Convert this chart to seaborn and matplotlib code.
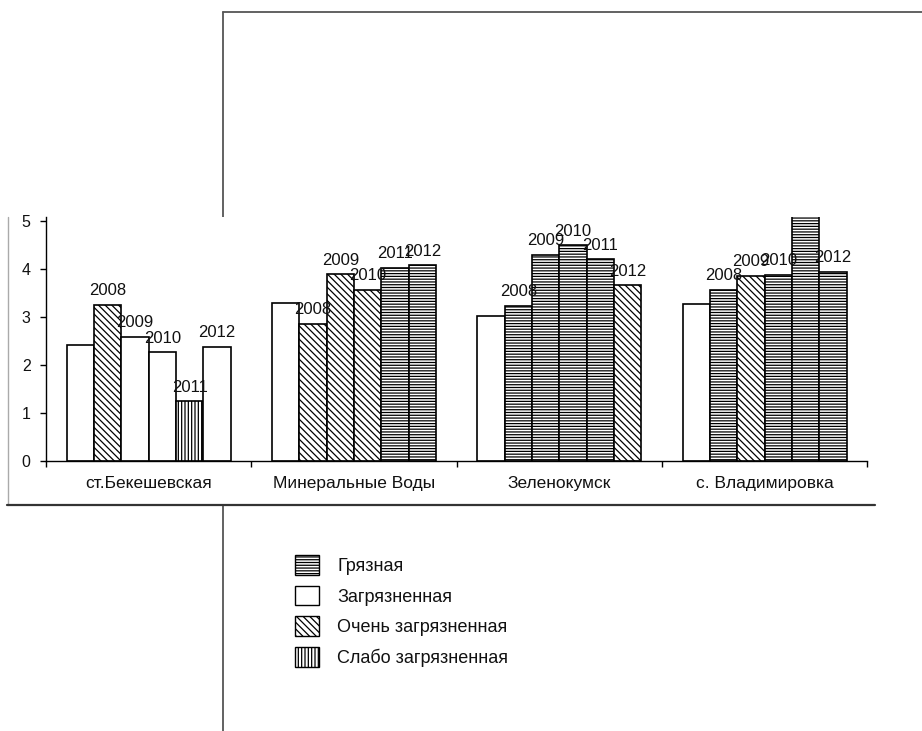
import matplotlib
matplotlib.use("Agg")
import matplotlib.pyplot as plt
from matplotlib.patches import Patch, Rectangle
from matplotlib.lines import Line2D
from matplotlib.ticker import FixedLocator, NullFormatter
import seaborn as sns
import pandas as pd

# ---- data -------------------------------------------------------------
stations = ["ст.Бекешевская", "Минеральные Воды", "Зеленокумск", "с. Владимировка"]
year_labels = ["", "2008", "2009", "2010", "2011", "2012"]

bekeshevskaya = [2.42, 3.25, 2.58, 2.26, 1.24, 2.38]
mineralnye_vody = [3.28, 2.85, 3.88, 3.56, 4.02, 4.07]
zelenokumsk = [3.01, 3.23, 4.29, 4.49, 4.20, 3.65]
vladimirovka = [3.26, 3.56, 3.85, 3.87, 5.60, 3.94]

G = "Грязная"
Z = "Загрязненная"
O = "Очень загрязненная"
S = "Слабо загрязненная"
classes = [G, Z, O, S]

bekeshevskaya_cls = [Z, O, Z, Z, S, Z]
mineralnye_vody_cls = [Z, O, O, O, G, G]
zelenokumsk_cls = [Z, G, G, G, G, O]
vladimirovka_cls = [Z, G, O, G, G, G]

values = [bekeshevskaya, mineralnye_vody, zelenokumsk, vladimirovka]
water_class = [bekeshevskaya_cls, mineralnye_vody_cls, zelenokumsk_cls, vladimirovka_cls]

hatches = {G: "------", Z: "", O: "\\\\\\\\\\", S: "|||||"}

slots = [str(i) for i in range(len(year_labels))]
rows = []
for s_i, st in enumerate(stations):
    for k, slot in enumerate(slots):
        rows.append({"station": st, "slot": slot, "value": values[s_i][k]})
df = pd.DataFrame(rows)

# ---- styling ----------------------------------------------------------
sns.set_theme(style="white")
plt.rcParams["font.family"] = ["Liberation Sans", "DejaVu Sans"]
plt.rcParams["hatch.linewidth"] = 0.9
plt.rcParams["hatch.color"] = "black"

W, H = 922, 731
fig = plt.figure(figsize=(W / 100, H / 100), dpi=100)
fig.patch.set_facecolor("white")


def fx(px):
    return px / W


def fy(py):
    return 1 - py / H


# outer frame lines behind the chart panel
frame_kw = dict(color="#555555", lw=1.3, zorder=-3, transform=fig.transFigure)
fig.add_artist(Line2D([fx(223), fx(922)], [fy(12), fy(12)], **frame_kw))
fig.add_artist(Line2D([fx(223), fx(223)], [fy(12), fy(731)], **frame_kw))

# white chart panel with a grey left edge and dark bottom edge
fig.add_artist(Rectangle((fx(7), fy(505)), fx(875) - fx(7), fy(216.7) - fy(505),
                         facecolor="white", edgecolor="none", zorder=-2,
                         transform=fig.transFigure))
fig.add_artist(Line2D([fx(7.5), fx(7.5)], [fy(216.7), fy(505)], color="#aaaaaa",
                      lw=1.0, zorder=-1, transform=fig.transFigure))
fig.add_artist(Line2D([fx(7), fx(875)], [fy(505), fy(505)], color="#333333",
                      lw=1.6, zorder=-1, transform=fig.transFigure))

ax = fig.add_axes([fx(46), fy(461), fx(867.3) - fx(46), fy(216.7) - fy(461)])
ax.patch.set_alpha(0)

sns.barplot(data=df, x="station", y="value", hue="slot", hue_order=slots,
            order=stations, palette={s: "white" for s in slots},
            width=0.8, gap=0, edgecolor="black", linewidth=1.2,
            legend=False, ax=ax, err_kws={"linewidth": 0})

for k, cont in enumerate(ax.containers):
    for s_i, bar in enumerate(cont):
        bar.set_hatch(hatches[water_class[s_i][k]])
        bar.set_edgecolor("black")
        if year_labels[k]:
            ax.annotate(year_labels[k],
                        (bar.get_x() + bar.get_width() / 2, bar.get_height()),
                        xytext=(0, 14), textcoords="offset pixels",
                        ha="center", va="center", fontsize=12,
                        color="#111111", annotation_clip=True)

ax.set_ylim(0, 5.08)
ax.set_xlim(-0.5, len(stations) - 0.5)
ax.set_yticks(range(6))
ax.set_xlabel("")
ax.set_ylabel("")

for side in ("top", "right"):
    ax.spines[side].set_visible(False)
for side in ("left", "bottom"):
    ax.spines[side].set_color("black")
    ax.spines[side].set_linewidth(1.0)

ax.tick_params(axis="y", direction="out", length=4.5, width=1.0, color="black",
               pad=6.5, labelsize=11.5, labelcolor="#111111", left=True)
ax.tick_params(axis="x", which="major", length=0, pad=10.5, labelsize=12.5,
               labelcolor="#111111")
ax.xaxis.set_minor_locator(FixedLocator([i - 0.5 for i in range(len(stations) + 1)]))
ax.xaxis.set_minor_formatter(NullFormatter())
ax.tick_params(axis="x", which="minor", direction="out", length=4.5, width=1.0,
               color="black", bottom=True)

handles = [Patch(facecolor="white", edgecolor="black", linewidth=1.0, hatch=hatches[c])
           for c in classes]
fig.legend(handles, classes, loc="upper left",
           bbox_to_anchor=(fx(295), fy(555)), frameon=False, borderpad=0,
           borderaxespad=0, fontsize=13, handlelength=1.33, handleheight=1.3,
           handletextpad=1.0, labelspacing=0.6, labelcolor="#111111")

fig.savefig("out.png", dpi=100, facecolor="white")
